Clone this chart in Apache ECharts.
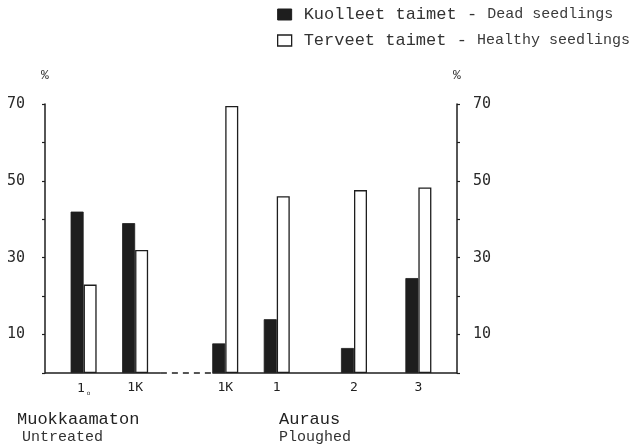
<!DOCTYPE html>
<html>
<head>
<meta charset="utf-8">
<script src="https://cdn.jsdelivr.net/npm/echarts@6/dist/echarts.min.js"></script>
<style>
  html, body { margin: 0; padding: 0; background: #fff; }
  #chart { width: 633px; height: 447px; }
</style>
</head>
<body>
<div id="chart"></div>
<script>
// Treatment plots (Untreated: 1o, 1K; Ploughed: 1K, 1, 2, 3)
const categories = ['1o', '1K', '1K', '1', '2', '3'];
// Share of seedlings, %
const deadSeedlings = [42, 39, 7.7, 14, 6.5, 24.7];
const healthySeedlings = [23, 32, 69.5, 46, 47.6, 48.3];
const yTicks = [10, 30, 50, 70];

const seriesNames = ['Kuolleet taimet - Dead seedlings', 'Terveet taimet - Healthy seedlings'];

// Placement of each plot pair along the base line (axis units, 0..32)
const pairPos = [3, 7, 14, 18, 24, 29];
// Base line pieces: solid runs and the dashed gap between the two treatments
const solidRuns = [[0, 9], [13, 32]];
const dashedRun = [9, 13];

const INK = '#1e1e1e';
const monoSans = '"DejaVu Sans Mono", monospace';
const monoSerif = '"Liberation Mono", "Courier New", monospace';

const labelAt = {};
pairPos.forEach((p, i) => { labelAt[p] = categories[i]; });

const chart = echarts.init(document.getElementById('chart'), null, { renderer: 'canvas' });

const baseLineSeries = solidRuns.map(r => ({
  type: 'line', silent: true, clip: false, symbol: 'none', animation: false,
  data: [[r[0], 0], [r[1], 0]],
  lineStyle: { color: INK, width: 1.5 }
}));
baseLineSeries.push({
  type: 'line', silent: true, clip: false, symbol: 'none', animation: false,
  data: [[dashedRun[0], 0], [dashedRun[1], 0]],
  lineStyle: { color: INK, width: 1.5, type: [6, 5] }
});

const yAxisCommon = {
  type: 'value', min: 0, max: 70, interval: 10,
  name: '%',
  nameLocation: 'end',
  nameGap: 22,
  nameTextStyle: { color: '#333', fontSize: 13, fontFamily: monoSerif },
  axisLine: { show: true, lineStyle: { color: INK, width: 1.5 } },
  axisTick: { show: true, length: 3, lineStyle: { color: INK, width: 1.2 } },
  splitLine: { show: false },
  axisLabel: {
    color: '#2a2a2a', fontSize: 15, fontFamily: monoSans,
    formatter: v => (yTicks.indexOf(v) >= 0 ? String(v) : '')
  }
};

chart.setOption({
  animation: false,
  backgroundColor: '#fff',
  grid: { left: 45, right: 176, top: 104, bottom: 74 },
  legend: {
    orient: 'vertical',
    left: 277, top: 6,
    padding: 0,
    itemGap: 9,
    itemWidth: 14, itemHeight: 11,
    selectedMode: false,
    data: [
      { name: seriesNames[0], icon: 'rect', itemStyle: { color: INK, borderColor: INK, borderWidth: 1 } },
      { name: seriesNames[1], icon: 'rect', itemStyle: { color: '#fff', borderColor: INK, borderWidth: 1.3 } }
    ],
    formatter: name => {
      const parts = name.split(' - ');
      return '{sp|}{fi|' + parts[0] + ' - }{en|' + parts[1] + '}';
    },
    textStyle: {
      rich: {
        sp: { width: 7 },
        fi: { fontFamily: monoSerif, fontSize: 17, color: '#333', lineHeight: 20 },
        en: { fontFamily: monoSerif, fontSize: 15, color: '#3a3a3a', lineHeight: 20 }
      }
    }
  },
  xAxis: {
    type: 'value', min: 0, max: 32, interval: 1,
    axisLine: { show: false },
    axisTick: { show: false },
    splitLine: { show: false },
    axisLabel: {
      margin: 8,
      color: '#222',
      fontSize: 13,
      fontFamily: monoSans,
      formatter: v => {
        const t = labelAt[v];
        if (!t) return '';
        if (t === '1o') return '{n|1}{sub|o}';
        return '{n|' + t + '}';
      },
      rich: {
        n: { fontSize: 13, fontFamily: monoSans, color: '#222' },
        sub: { fontSize: 6, fontFamily: monoSans, color: '#333', padding: [9, 0, 0, 2] }
      }
    }
  },
  yAxis: [
    Object.assign({}, yAxisCommon, { position: 'left', axisLabel: Object.assign({}, yAxisCommon.axisLabel, { margin: 20 }) }),
    Object.assign({}, yAxisCommon, { position: 'right', axisLabel: Object.assign({}, yAxisCommon.axisLabel, { margin: 16 }) })
  ],
  series: [
    {
      name: seriesNames[0], type: 'bar', xAxisIndex: 0, yAxisIndex: 0,
      barWidth: 13, barGap: '0%',
      data: pairPos.map((p, i) => [p, deadSeedlings[i]]),
      itemStyle: { color: INK, borderColor: INK, borderWidth: 0.8 }
    },
    {
      name: seriesNames[1], type: 'bar', xAxisIndex: 0, yAxisIndex: 0,
      barWidth: 13, barGap: '0%',
      data: pairPos.map((p, i) => [p, healthySeedlings[i]]),
      itemStyle: { color: '#fff', borderColor: INK, borderWidth: 1.3 }
    }
  ].concat(baseLineSeries),
  graphic: [
    { type: 'text', left: 17, top: 411, style: { text: 'Muokkaamaton', font: '17px ' + monoSerif, fill: '#222' } },
    { type: 'text', left: 22, top: 430, style: { text: 'Untreated', font: '15px ' + monoSerif, fill: '#333' } },
    { type: 'text', left: 279, top: 411, style: { text: 'Auraus', font: '17px ' + monoSerif, fill: '#222' } },
    { type: 'text', left: 279, top: 430, style: { text: 'Ploughed', font: '15px ' + monoSerif, fill: '#333' } }
  ]
});
</script>
</body>
</html>
